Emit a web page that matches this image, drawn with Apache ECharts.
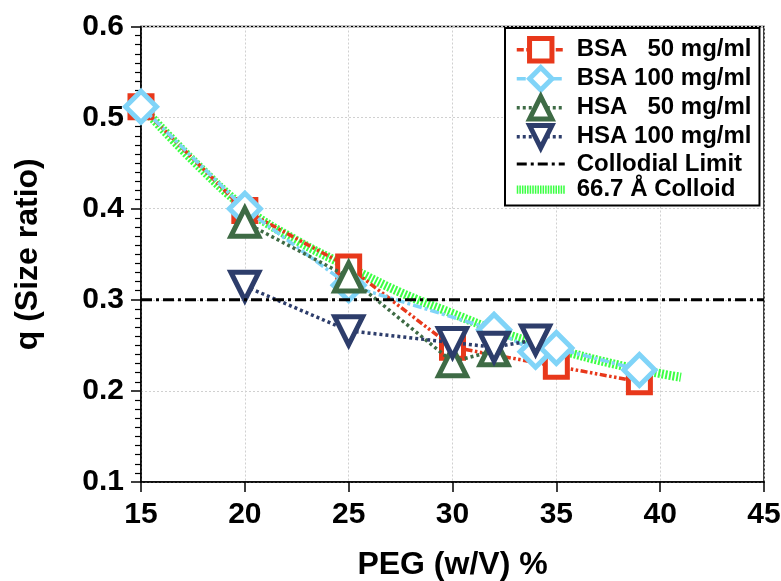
<!DOCTYPE html>
<html>
<head>
<meta charset="utf-8">
<script src="https://cdn.jsdelivr.net/npm/echarts@6/dist/echarts.min.js"></script>
<style>html,body{margin:0;padding:0;background:#fff}#c{width:781px;height:581px}</style>
</head>
<body>
<div id="c"></div>
<script>
// ---- data ----
const xTicks = [15, 20, 25, 30, 35, 40, 45];
const yTicks = [0.1, 0.2, 0.3, 0.4, 0.5, 0.6];
const bsa50X = [15, 20, 25, 30, 35, 39];
const bsa50Y = [0.512, 0.398, 0.336, 0.248, 0.227, 0.210];
const bsa100X = [15, 20, 25, 32, 34, 35, 39];
const bsa100Y = [0.512, 0.400, 0.316, 0.267, 0.243, 0.247, 0.223];
const hsa50X = [20, 25, 30, 32];
const hsa50Y = [0.385, 0.325, 0.232, 0.244];
const hsa100X = [20, 25, 30, 32, 34];
const hsa100Y = [0.315, 0.266, 0.253, 0.248, 0.256];
const limitX = [15, 45];
const limitY = [0.3, 0.3];
const colloidX = [15, 17.5, 20, 22.5, 25, 27.5, 30, 32.5, 35, 37.5, 40, 41];
const colloidY = [0.513, 0.453, 0.401, 0.365, 0.336, 0.308, 0.285, 0.263, 0.246, 0.231, 0.219, 0.215];
const names = ['BSA   50 mg/ml', 'BSA 100 mg/ml', 'HSA   50 mg/ml', 'HSA 100 mg/ml', 'Collodial Limit', '66.7 Å Colloid'];

const zip = (xs, ys) => xs.map((x, i) => [x, ys[i]]);
const chart = echarts.init(document.getElementById('c'), null, {renderer: 'canvas'});
const red = '#e8381b', lblue = '#80d4f8', dgreen = '#3e6b45', navy = '#2d3d6b', lgreen = '#3cff44';
const bold = {fontFamily: 'Arial, "Liberation Sans", sans-serif', fontWeight: 'bold', color: '#000'};

// legend icon paths (line-only entries)
const dashDotPath = 'path://M0,0h10v3h-10zM14,0h3v3h-3zM21,0h10v3h-10zM35,0h3v3h-3zM42,0h6v3h-6z';
let stripes = '';
for (let i = 0; i < 19; i++) stripes += 'M' + (i * 2.5) + ',0h1.5v8h-1.5z';
const stripePath = 'path://' + stripes;

function markerSeries(name, xs, ys, color, symbol, size, dash, rotate, z) {
  return {
    name, type: 'line', data: zip(xs, ys), z,
    symbol, symbolSize: size, symbolRotate: rotate || 0,
    itemStyle: {color: '#fff', borderColor: color, borderWidth: 5},
    lineStyle: {color, width: 3.5, type: dash, cap: 'butt'},
    emphasis: {disabled: true}, animation: false
  };
}

chart.setOption({
  animation: false,
  backgroundColor: '#fff',
  grid: {left: 141, right: 17, top: 26.5, bottom: 99, outerBoundsMode: 'none', containLabel: false,
    show: true, borderColor: '#000', borderWidth: 1.5, backgroundColor: 'transparent'},
  legend: {
    data: [
      {name: names[0]}, {name: names[1]}, {name: names[2]}, {name: names[3]},
      {name: names[4], icon: dashDotPath, itemStyle: {color: '#000', borderWidth: 0}},
      {name: names[5], icon: stripePath, itemStyle: {color: lgreen, borderWidth: 0}}
    ],
    left: 505, top: 28, orient: 'vertical',
    padding: [8, 8, 4, 10], itemGap: 1.6, itemWidth: 48, itemHeight: 28,
    itemStyle: {borderWidth: 5},
    lineStyle: {width: 3.5},
    backgroundColor: '#fff', borderColor: '#000', borderWidth: 2,
    textStyle: Object.assign({}, bold, {fontSize: 24, padding: [0, 0, 0, 7]}),
    selectedMode: false
  },
  xAxis: {
    type: 'value', min: 15, max: 45, interval: 5,
    name: 'PEG (w/V) %', nameLocation: 'middle', nameGap: 67,
    nameTextStyle: Object.assign({}, bold, {fontSize: 32}),
    axisLine: {show: true, lineStyle: {color: '#000', width: 1.5}},
    axisTick: {show: true, length: 10, lineStyle: {color: '#000', width: 1.5}},
    axisLabel: Object.assign({}, bold, {fontSize: 30, margin: 18,
      formatter: v => xTicks.includes(v) ? String(v) : ''}),
    splitLine: {show: true, lineStyle: {color: '#d0d0d0', width: 1, type: [2, 2]}}
  },
  yAxis: {
    type: 'value', min: 0.1, max: 0.6, interval: 0.1,
    name: 'q (Size ratio)', nameLocation: 'middle', nameGap: 97,
    nameTextStyle: Object.assign({}, bold, {fontSize: 32}),
    axisLine: {show: true, lineStyle: {color: '#000', width: 1.5}},
    axisTick: {show: true, length: 10, lineStyle: {color: '#000', width: 1.5}},
    minorTick: {show: true, splitNumber: 10, length: 6, lineStyle: {color: '#000', width: 1.2}},
    axisLabel: Object.assign({}, bold, {fontSize: 30, margin: 17,
      formatter: v => { const t = yTicks.find(y => Math.abs(y - v) < 1e-9); return t !== undefined ? t.toFixed(1) : ''; }}),
    splitLine: {show: true, lineStyle: {color: '#d0d0d0', width: 1, type: [2, 2]}}
  },
  series: [
    {
      name: names[5], type: 'line', data: zip(colloidX, colloidY), smooth: 0.4, z: 1,
      symbol: 'none', lineStyle: {color: lgreen, width: 9, type: [2, 1.6], cap: 'butt'},
      itemStyle: {color: lgreen}, emphasis: {disabled: true}
    },
    markerSeries(names[0], bsa50X, bsa50Y, red, 'rect', 22, [7, 2.5, 2.5, 2.5, 2.5, 2.5], 0, 2),
    markerSeries(names[1], bsa100X, bsa100Y, lblue, 'diamond', 31, [9, 3, 3, 3], 0, 3),
    markerSeries(names[2], hsa50X, hsa50Y, dgreen, 'triangle', 28, [3, 3], 0, 4),
    markerSeries(names[3], hsa100X, hsa100Y, navy, 'triangle', 28, [3, 3], 180, 5),
    {
      name: names[4], type: 'line', data: zip(limitX, limitY), z: 6,
      symbol: 'none', lineStyle: {color: '#000', width: 3, type: [11, 4, 3, 4], cap: 'butt'},
      itemStyle: {color: '#000'}, emphasis: {disabled: true}
    }
  ]
});
</script>
</body>
</html>
